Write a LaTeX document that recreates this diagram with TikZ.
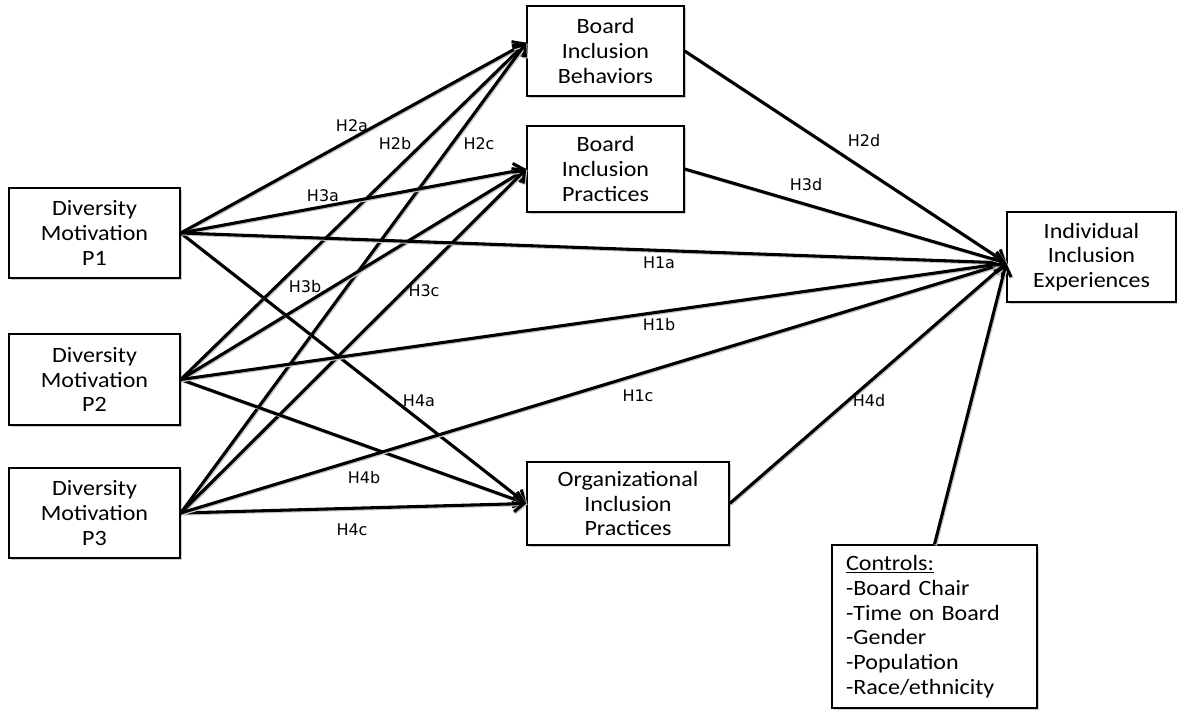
\documentclass[tikz,border=0pt]{standalone}
\usepackage{fontspec}
\setmainfont{Carlito}[FakeStretch=1.1]
\newfontfamily\labfont{DejaVu Sans}
\usetikzlibrary{arrows.meta,shadows}
\begin{document}
\begin{tikzpicture}[x=0.75pt,y=-0.75pt,
  box/.style={draw, line width=1.1pt, fill=white, align=center,
    font=\fontsize{16.4pt}{18.5pt}\selectfont, inner sep=0pt,
    drop shadow={shadow xshift=1.2pt, shadow yshift=-1.2pt, opacity=0.4}},
  conn/.style={line width=2.3pt, -{Straight Barb[length=7.5pt,width=12pt]},
    preaction={draw=gray!45, line width=2.3pt, transform canvas={shift={(0.8pt,-0.8pt)}}}},
  hlab/.style={font=\labfont\fontsize{12pt}{14pt}\selectfont, inner sep=0pt}]
\useasboundingbox (0,0) rectangle (1177,710);

\node[box, minimum width=128.25pt, minimum height=67.5pt] (p1) at (94.5,233) {Diversity\\Motivation\\P1};
\node[box, minimum width=128.25pt, minimum height=68.25pt] (p2) at (94.5,379.5) {Diversity\\Motivation\\P2};
\node[box, minimum width=128.25pt, minimum height=67.5pt] (p3) at (94.5,513) {Diversity\\Motivation\\P3};
\node[box, minimum width=117.75pt, minimum height=67.5pt] (beh) at (605.5,51) {Board\\Inclusion\\Behaviors};
\node[box, minimum width=117.75pt, minimum height=64.5pt] (prac) at (605.5,169) {Board\\Inclusion\\Practices};
\node[box, minimum width=151.5pt, minimum height=62.25pt] (org) at (628,503.5) {Organizational\\Inclusion\\Practices};
\node[box, minimum width=126.75pt, minimum height=67.5pt] (ind) at (1091.5,257) {Individual\\Inclusion\\Experiences};
\node[box, align=left, text width=132.75pt, inner xsep=10.5pt, minimum width=153.75pt, minimum height=122.25pt] (ctrl) at (934.5,626.5)
  {\underline{Controls:}\\-Board Chair\\-Time on Board\\-Gender\\-Population\\-Race/ethnicity};

\draw[conn] (p1.east) -- (beh.174);
\draw[conn] (p2.east) -- (beh.174);
\draw[conn] (p3.east) -- (beh.174);
\draw[conn] (p1.east) -- (prac.west);
\draw[conn] (p2.east) -- (prac.west);
\draw[conn] (p3.east) -- (prac.west);
\draw[conn] (p1.east) -- (org.west);
\draw[conn] (p2.east) -- (org.west);
\draw[conn] (p3.east) -- (org.west);
\draw[conn] (p1.east) -- (ind.184);
\draw[conn] (p2.east) -- (ind.184);
\draw[conn] (p3.east) -- (ind.184);
\draw[conn] (beh.east) -- (ind.184);
\draw[conn] (prac.east) -- (ind.184);
\draw[conn] (org.east) -- (ind.184);
\draw[conn] (ctrl.north) -- (ind.184);

\node[hlab] (l2a) at (352,126) {H2a};
\node[hlab] (l2b) at (395,144) {H2b};
\node[hlab] (l2c) at (479,144) {H2c};
\node[hlab] (l3a) at (323,196) {H3a};
\node[hlab] (l3b) at (305,287) {H3b};
\node[hlab] (l3c) at (424,291) {H3c};
\node[hlab] (l4a) at (419,401) {H4a};
\node[hlab] (l4b) at (364,478) {H4b};
\node[hlab] (l4c) at (352,530) {H4c};
\node[hlab] (l2d) at (864,141) {H2d};
\node[hlab] (l3d) at (806,185) {H3d};
\node[hlab] (l1a) at (659,263) {H1a};
\node[hlab] (l1b) at (659,325) {H1b};
\node[hlab] (l1c) at (638,396) {H1c};
\node[hlab] (l4d) at (869,401) {H4d};
\end{tikzpicture}
\end{document}
